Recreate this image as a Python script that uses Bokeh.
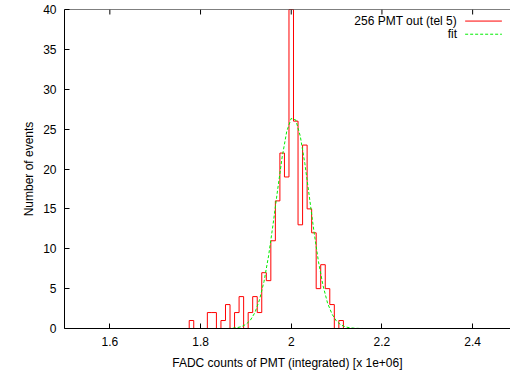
import numpy as np
from bokeh.plotting import figure
from bokeh.models import Range1d, FixedTicker, CustomJSTickFormatter, Label, Arrow, Span
from bokeh.embed import file_html
from bokeh.resources import INLINE

# histogram (bin centres, width 0.01, in units of 1e6 FADC counts)
bin_width = 0.01
bin_centers = [1.78, 1.79, 1.80, 1.81, 1.82, 1.83, 1.84, 1.85, 1.86, 1.87, 1.88, 1.89,
               1.90, 1.91, 1.92, 1.93, 1.94, 1.95, 1.96, 1.97, 1.98, 1.99, 2.00, 2.01,
               2.02, 2.03, 2.04, 2.05, 2.06, 2.07, 2.08, 2.09, 2.10, 2.11]
counts = [1, 0, 0, 0, 2, 2, 0, 1, 3, 0, 2, 4,
          0, 2, 4, 2, 7, 6, 11, 16, 22, 19, 40, 26,
          13, 23, 15, 12, 5, 8, 5, 3, 0, 1]

# fit curve points
fit_x = [1.86, 1.87, 1.88, 1.89, 1.90, 1.91, 1.92, 1.93, 1.94, 1.95, 1.96, 1.97, 1.98, 1.99,
         2.00, 2.01, 2.02, 2.03, 2.04, 2.05, 2.06, 2.07, 2.08, 2.09, 2.10, 2.11, 2.12, 2.13,
         2.14, 2.15, 2.16]
fit_y = [0.0, 0.03, 0.1, 0.23, 0.51, 1.05, 2.0, 3.6, 5.9, 9.1, 13.1, 17.4, 21.5, 24.7,
         26.35, 26.15, 24.1, 20.7, 16.5, 12.2, 8.4, 5.4, 3.2, 1.8, 0.9, 0.44, 0.19, 0.08,
         0.03, 0.01, 0.0]

x_ticks = [1.6, 1.8, 2.0, 2.2, 2.4]
y_ticks = [0, 5, 10, 15, 20, 25, 30, 35, 40]
y_top = 40

FONT = "Liberation Sans"

p = figure(width=510, height=374, output_backend="svg", toolbar_location=None,
           x_range=Range1d(1.5, 2.4835), y_range=Range1d(0, y_top),
           x_axis_label="FADC counts of PMT (integrated) [x 1e+06]",
           y_axis_label="Number of events")
p.min_border_left = 64
p.min_border_right = 0
p.min_border_top = 9
p.min_border_bottom = 46
p.outline_line_color = None
p.background_fill_color = "white"
p.border_fill_color = "white"
p.xgrid.visible = False
p.ygrid.visible = False

fmt = CustomJSTickFormatter(code="return String(Math.round(tick*10)/10);")
p.xaxis.ticker = FixedTicker(ticks=x_ticks)
p.xaxis.formatter = fmt
p.yaxis.ticker = FixedTicker(ticks=y_ticks)

for ax in (p.xaxis[0], p.yaxis[0]):
    ax.major_tick_in = 5
    ax.major_tick_out = 0
    ax.minor_tick_line_color = None
    ax.axis_line_color = "black"
    ax.major_tick_line_color = "black"
    ax.major_label_text_font = FONT
    ax.major_label_text_font_size = "12px"
    ax.major_label_text_color = "black"
    ax.axis_label_text_font = FONT
    ax.axis_label_text_font_size = "12px"
    ax.axis_label_text_font_style = "normal"
    ax.axis_label_text_color = "black"

p.xaxis.major_label_standoff = 8
p.xaxis.axis_label_standoff = 7
p.yaxis.major_label_standoff = 8
p.yaxis.axis_label_standoff = 4

# top border with inward ticks (gnuplot mirror ticks)
p.add_layout(Span(location=y_top, dimension="width", line_color="black", line_width=1))
tick_len = 5 * y_top / 319.0
p.segment(x0=x_ticks, x1=x_ticks, y0=[y_top] * len(x_ticks),
          y1=[y_top - tick_len] * len(x_ticks), line_color="black", line_width=1)

# histeps outline built from bin edges and counts
c = np.asarray(bin_centers)
n = np.asarray(counts, dtype=float)
left = c - bin_width / 2
right = c + bin_width / 2
sx = np.concatenate([[left[0]], np.column_stack([left, right]).ravel(), [right[-1]]])
sy = np.concatenate([[0.0], np.repeat(n, 2), [0.0]])
p.line(x=sx, y=sy, line_color="#ff0000", line_width=1)

p.line(x=fit_x, y=fit_y, line_color="#00ee00", line_width=1, line_dash="3 2")

# key (gnuplot style: text right-justified, sample on the right)
key_text = ["256 PMT out (tel 5)", "fit"]
key_y = [38.55, 36.9]
p.add_layout(Label(x=2.3655, y=key_y[0], text=key_text[0], text_align="right",
                   text_baseline="middle", text_font=FONT, text_font_size="12px",
                   text_color="black"))
p.add_layout(Label(x=2.3655, y=key_y[1], text=key_text[1], text_align="right",
                   text_baseline="middle", text_font=FONT, text_font_size="12px",
                   text_color="black"))
p.add_layout(Arrow(x_start=2.3835, x_end=2.4645, y_start=key_y[0], y_end=key_y[0],
                   end=None, line_color="#ff0000", line_width=1))
p.add_layout(Arrow(x_start=2.3835, x_end=2.4645, y_start=key_y[1], y_end=key_y[1],
                   end=None, line_color="#00ee00", line_width=1, line_dash="3 2"))

open("out.html", "w").write(file_html(p, INLINE))
